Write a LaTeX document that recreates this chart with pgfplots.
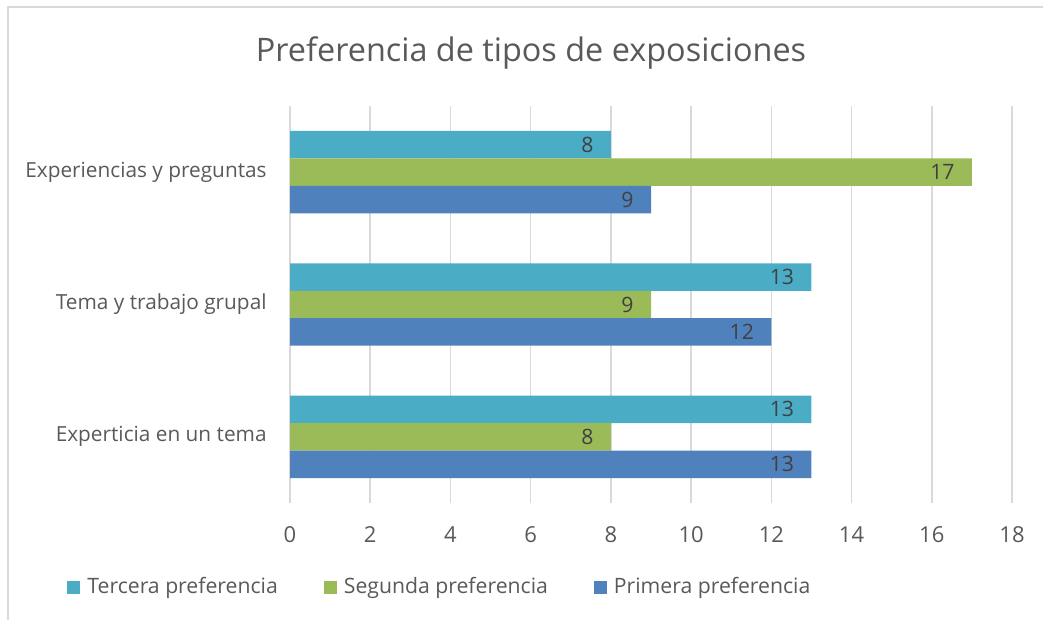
\documentclass[border=0pt]{standalone}
\usepackage{fontspec}
\setmainfont{Open Sans}
\usepackage{pgfplots}
\pgfplotsset{compat=1.18}
\definecolor{ter}{HTML}{4BACC6}
\definecolor{seg}{HTML}{9BBB59}
\definecolor{pri}{HTML}{4F81BD}
\definecolor{txt}{HTML}{595959}
\definecolor{lbl}{HTML}{404040}
\definecolor{gridc}{HTML}{D9D9D9}
\begin{document}
\begin{tikzpicture}
\useasboundingbox (0pt,0pt) rectangle (521.5pt,310pt);
\draw[color=gridc, line width=1pt] (4pt,0pt) -- (4pt,306.5pt) -- (521.5pt,306.5pt);
\node[text=txt, font=\fontsize{16.2}{20}\selectfont, anchor=base] at (265.5pt,279pt) {Preferencia de tipos de exposiciones};
\begin{axis}[
  at={(145pt,58.5pt)}, anchor=south west,
  width=361pt, height=198.5pt, scale only axis,
  xmin=0, xmax=18, ymin=-0.5, ymax=2.5,
  xbar, bar width=0.2075,
  xtick={0,2,...,18},
  ytick={0,1,2},
  yticklabels={Experticia en un tema, Tema y trabajo grupal, Experiencias y preguntas},
  xmajorgrids, grid style={color=gridc, line width=0.8pt},
  axis line style={draw=none},
  major tick length=0pt,
  tick label style={font=\fontsize{11}{13}\selectfont, text=txt},
  yticklabel style={font=\fontsize{10.4}{13}\selectfont, anchor=east, xshift=-11.5pt, inner sep=0pt},
  xticklabel style={anchor=base, yshift=-20pt, inner sep=0pt},
  /pgf/number format/assume math mode=true,
  nodes near coords,
  every node near coord/.append style={anchor=east, xshift=-8.5pt, inner sep=0pt, text=lbl, font=\fontsize{10.6}{13}\selectfont},
  legend columns=3,
  legend style={at={(0.209,-0.2116)}, anchor=center, draw=none, fill=none,
    font=\fontsize{10.6}{13}\selectfont, text=txt,
    /tikz/every odd column/.append style={column sep=1.5pt},
    /tikz/every even column/.append style={column sep=21pt}},
  legend cell align=left,
]
\addplot[fill=ter, draw=none, bar shift=0.2075,
  legend image code/.code={\fill[ter] (0pt,-3.25pt) rectangle (6.5pt,3.25pt);}]
  coordinates {(13,0) (13,1) (8,2)};
\addlegendentry{Tercera preferencia}
\addplot[fill=seg, draw=none, bar shift=0,
  legend image code/.code={\fill[seg] (0pt,-3.25pt) rectangle (6.5pt,3.25pt);}]
  coordinates {(8,0) (9,1) (17,2)};
\addlegendentry{Segunda preferencia}
\addplot[fill=pri, draw=none, bar shift=-0.2075,
  legend image code/.code={\fill[pri] (0pt,-3.25pt) rectangle (6.5pt,3.25pt);}]
  coordinates {(13,0) (12,1) (9,2)};
\addlegendentry{Primera preferencia}
\end{axis}
\end{tikzpicture}
\end{document}
